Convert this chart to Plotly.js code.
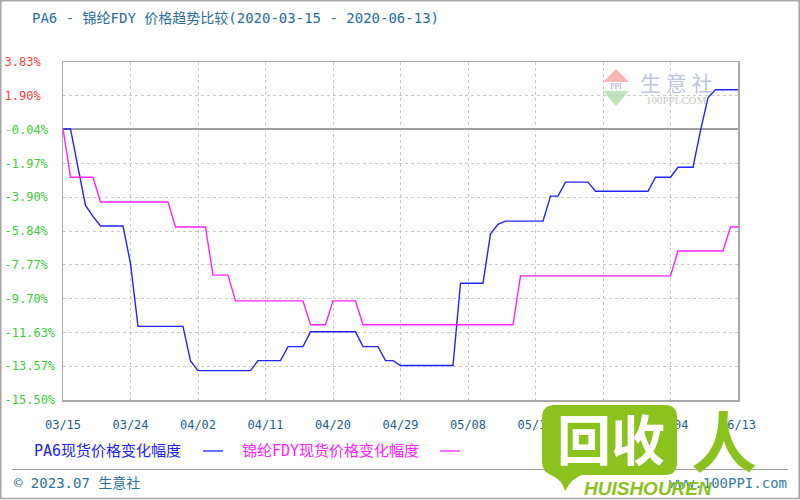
<!DOCTYPE html>
<html>
<head>
<meta charset="utf-8">
<script src="https://cdn.plot.ly/plotly-3.0.1.min.js"></script>
<style>
  html, body { margin: 0; padding: 0; background: #fff; }
  #chart { width: 800px; height: 500px; }
</style>
</head>
<body>
<div id="chart"></div>
<script>
// ---- data ----
const days = [
  '03/15','03/16','03/17','03/18','03/19','03/20','03/21','03/22','03/23','03/24',
  '03/25','03/26','03/27','03/28','03/29','03/30','03/31','04/01','04/02','04/03',
  '04/04','04/05','04/06','04/07','04/08','04/09','04/10','04/11','04/12','04/13',
  '04/14','04/15','04/16','04/17','04/18','04/19','04/20','04/21','04/22','04/23',
  '04/24','04/25','04/26','04/27','04/28','04/29','04/30','05/01','05/02','05/03',
  '05/04','05/05','05/06','05/07','05/08','05/09','05/10','05/11','05/12','05/13',
  '05/14','05/15','05/16','05/17','05/18','05/19','05/20','05/21','05/22','05/23',
  '05/24','05/25','05/26','05/27','05/28','05/29','05/30','05/31','06/01','06/02',
  '06/03','06/04','06/05','06/06','06/07','06/08','06/09','06/10','06/11','06/12',
  '06/13'
];

const pa6Change = [
  0, 0, -2.2, -4.37, -5.0, -5.55, -5.55, -5.55, -5.55, -7.7,
  -11.29, -11.29, -11.29, -11.29, -11.29, -11.29, -11.29, -13.27, -13.82, -13.82,
  -13.82, -13.82, -13.82, -13.82, -13.82, -13.82, -13.25, -13.25, -13.25, -13.25,
  -12.45, -12.45, -12.45, -11.6, -11.6, -11.6, -11.6, -11.6, -11.6, -11.6,
  -12.45, -12.45, -12.45, -13.25, -13.25, -13.53, -13.53, -13.53, -13.53, -13.53,
  -13.53, -13.53, -13.53, -8.82, -8.82, -8.82, -8.82, -6.0, -5.45, -5.27,
  -5.27, -5.27, -5.27, -5.27, -5.27, -3.84, -3.84, -3.04, -3.04, -3.04,
  -3.04, -3.56, -3.56, -3.56, -3.56, -3.56, -3.56, -3.56, -3.56, -2.76,
  -2.76, -2.76, -2.19, -2.19, -2.19, -0.1, 1.8, 2.24, 2.24, 2.24,
  2.24
];

const fdyChange = [
  0, -2.76, -2.76, -2.76, -2.76, -4.18, -4.18, -4.18, -4.18, -4.18,
  -4.18, -4.18, -4.18, -4.18, -4.18, -5.61, -5.61, -5.61, -5.61, -5.61,
  -8.36, -8.36, -8.36, -9.83, -9.83, -9.83, -9.83, -9.83, -9.83, -9.83,
  -9.83, -9.83, -9.83, -11.2, -11.2, -11.2, -9.83, -9.83, -9.83, -9.83,
  -11.2, -11.2, -11.2, -11.2, -11.2, -11.2, -11.2, -11.2, -11.2, -11.2,
  -11.2, -11.2, -11.2, -11.2, -11.2, -11.2, -11.2, -11.2, -11.2, -11.2,
  -11.2, -8.4, -8.4, -8.4, -8.4, -8.4, -8.4, -8.4, -8.4, -8.4,
  -8.4, -8.4, -8.4, -8.4, -8.4, -8.4, -8.4, -8.4, -8.4, -8.4,
  -8.4, -8.4, -6.98, -6.98, -6.98, -6.98, -6.98, -6.98, -6.98, -5.61,
  -5.61
];

const seriesNames = ['PA6现货价格变化幅度', '锦纶FDY现货价格变化幅度'];
const xTickLabels = ['03/15','03/24','04/02','04/11','04/20','04/29','05/08','05/17','05/26','06/04','06/13'];
const yTickValues = [3.83, 1.897, -0.036, -1.969, -3.902, -5.835, -7.768, -9.701, -11.634, -13.567, -15.50];
const yTickLabels = ['3.83%', '1.90%', '-0.04%', '-1.97%', '-3.90%', '-5.84%', '-7.77%', '-9.70%', '-11.63%', '-13.57%', '-15.50%'];
const chartTitle = 'PA6 - 锦纶FDY 价格趋势比较(2020-03-15 - 2020-06-13)';
const footerLeft = '© 2023.07 生意社';
const footerRight = 'www.100PPI.com';

// ---- styling helpers ----
const MONO = '"DejaVu Sans Mono", "Noto Sans CJK SC", monospace';
const CJK = '"DejaVu Sans Mono", "Noto Sans CJK SC", sans-serif';
const BLUE = '#2323ff';
const MAGENTA = '#ff22ff';
const GREEN_LBL = '#3ccc3c';
const RED_LBL = '#ff3c3c';
const GREEN_WM = '#8cc21e';

// plot area in pixels: x 63..738, y 62..400
const L = 63, R = 738, T = 62, B = 400;
const px = x => (x - L) / (R - L);
const py = y => (B - y) / (B - T);
const P = (x, y) => px(x).toFixed(5) + ',' + py(y).toFixed(5);

const maxLen = Math.max(...yTickLabels.map(s => s.length));
const yTickText = yTickLabels.map((s, i) => {
  const pad = '\u00a0'.repeat(maxLen - s.length);
  const v = yTickValues[i];
  if (v > 0.5) return `<span style="color:${RED_LBL}">${s}</span>` + pad;
  if (Math.abs(v) < 0.5) return `<span style="color:#b0b0b0">${s[0]}</span><span style="color:${GREEN_LBL}">${s.slice(1)}</span>` + pad;
  return `<span style="color:${GREEN_LBL}">${s}</span>` + pad;
});

const traces = [
  { x: days, y: pa6Change, type: 'scatter', mode: 'lines', name: seriesNames[0],
    line: { color: BLUE, width: 1.4 }, hoverinfo: 'skip' },
  { x: days, y: fdyChange, type: 'scatter', mode: 'lines', name: seriesNames[1],
    line: { color: MAGENTA, width: 1.4 }, hoverinfo: 'skip' }
];

const shapes = [
  // outer image frame
  { type: 'rect', xref: 'paper', yref: 'paper', x0: px(0.8), x1: px(799.2), y0: py(0.8), y1: py(498.5),
    line: { color: '#a8a8a8', width: 1.6 }, layer: 'below' },
  // footer separator
  { type: 'line', xref: 'paper', yref: 'paper', x0: px(12), x1: px(788), y0: py(469.5), y1: py(469.5),
    line: { color: '#a0a0a0', width: 1.2 }, layer: 'above' },
  // legend line markers
  { type: 'line', xref: 'paper', yref: 'paper', x0: px(203), x1: px(223), y0: py(451), y1: py(451),
    line: { color: BLUE, width: 1.3 }, layer: 'above' },
  { type: 'line', xref: 'paper', yref: 'paper', x0: px(440), x1: px(460), y0: py(451), y1: py(451),
    line: { color: MAGENTA, width: 1.3 }, layer: 'above' },
  // small logo in plot (triangles)
  { type: 'path', xref: 'paper', yref: 'paper', layer: 'below',
    path: 'M ' + P(603, 82) + ' L ' + P(616, 69) + ' L ' + P(629, 82) + ' Z',
    fillcolor: '#f5b8b2', line: { width: 0 } },
  { type: 'path', xref: 'paper', yref: 'paper', layer: 'below',
    path: 'M ' + P(603, 91) + ' L ' + P(629, 91) + ' L ' + P(616, 106) + ' Z',
    fillcolor: '#bfe3b8', line: { width: 0 } },
  // watermark speech bubble
  { type: 'path', xref: 'paper', yref: 'paper', layer: 'above',
    path: 'M ' + P(555, 405) + ' L ' + P(665, 405) + ' Q ' + P(677, 405) + ' ' + P(677, 417) +
          ' L ' + P(677, 463) + ' Q ' + P(677, 475) + ' ' + P(665, 475) +
          ' L ' + P(582, 475) + ' Q ' + P(572, 478) + ' ' + P(565, 491) +
          ' Q ' + P(562, 480) + ' ' + P(553, 476) +
          ' Q ' + P(542, 472) + ' ' + P(542, 462) +
          ' L ' + P(542, 418) + ' Q ' + P(542, 405) + ' ' + P(555, 405) + ' Z',
    fillcolor: GREEN_WM, line: { width: 0 } }
];

const annotations = [
  { xref: 'paper', yref: 'paper', x: px(32), y: py(451), xanchor: 'left', yanchor: 'middle', showarrow: false,
    text: seriesNames[0], font: { family: CJK, size: 15, color: BLUE } },
  { xref: 'paper', yref: 'paper', x: px(240), y: py(451), xanchor: 'left', yanchor: 'middle', showarrow: false,
    text: seriesNames[1], font: { family: CJK, size: 15, color: MAGENTA } },
  { xref: 'paper', yref: 'paper', x: px(12), y: py(483), xanchor: 'left', yanchor: 'middle', showarrow: false,
    text: footerLeft, font: { family: MONO, size: 14, color: '#2e6f95' } },
  { xref: 'paper', yref: 'paper', x: px(789), y: py(483), xanchor: 'right', yanchor: 'middle', showarrow: false,
    text: footerRight, font: { family: MONO, size: 14, color: '#3a7ba3' } },
  // in-plot logo text
  { xref: 'paper', yref: 'paper', x: px(676), y: py(82), xanchor: 'center', yanchor: 'middle', showarrow: false,
    text: '生 意 社', font: { family: '"Noto Sans CJK SC", sans-serif', size: 21, color: '#bcc6de' } },
  { xref: 'paper', yref: 'paper', x: px(676), y: py(100), xanchor: 'center', yanchor: 'middle', showarrow: false,
    text: '100PPI.COM', font: { family: '"Liberation Serif", serif', size: 11, color: '#c8c8c8' } },
  { xref: 'paper', yref: 'paper', x: px(616), y: py(86.5), xanchor: 'center', yanchor: 'middle', showarrow: false,
    text: 'PPI', font: { family: '"Liberation Serif", serif', size: 8, color: '#9aa8c8' } },
  // watermark texts
  { xref: 'paper', yref: 'paper', x: px(611), y: py(437), xanchor: 'center', yanchor: 'middle', showarrow: false,
    text: '<b>回收</b>', font: { family: '"Noto Sans CJK SC", sans-serif', size: 54, color: '#ffffff' } },
  { xref: 'paper', yref: 'paper', x: px(724), y: py(438), xanchor: 'center', yanchor: 'middle', showarrow: false,
    text: '<b>人</b>', font: { family: '"Noto Sans CJK SC", sans-serif', size: 66, color: GREEN_WM } },
  { xref: 'paper', yref: 'paper', x: px(648), y: py(488), xanchor: 'center', yanchor: 'middle', showarrow: false,
    text: '<b><i>HUISHOUREN</i></b>', font: { family: '"Liberation Sans", Arial, sans-serif', size: 19, color: GREEN_WM } }
];

const layout = {
  width: 800, height: 500,
  margin: { l: L, r: 800 - R, t: T, b: 500 - B, pad: 0 },
  paper_bgcolor: '#ffffff', plot_bgcolor: '#ffffff',
  showlegend: false,
  title: { text: chartTitle, xref: 'container', yref: 'container', x: 32 / 800, xanchor: 'left',
           y: 1 - 18 / 500, yanchor: 'middle',
           font: { family: MONO, size: 14, color: '#2a6c9c' } },
  xaxis: {
    type: 'category', range: [0, days.length - 1],
    tickmode: 'array', tickvals: xTickLabels, ticktext: xTickLabels,
    showgrid: true, gridcolor: '#c8c8c8', griddash: 'dot', gridwidth: 1,
    showline: true, linecolor: '#a8a8a8', linewidth: 1.5, mirror: true,
    ticks: 'outside', ticklen: 13, tickcolor: 'rgba(0,0,0,0)',
    tickfont: { family: MONO, size: 12, color: '#1f5e8c' },
    zeroline: false, fixedrange: true
  },
  yaxis: {
    range: [-15.50, 3.83],
    tickmode: 'array', tickvals: yTickValues, ticktext: yTickText,
    showgrid: true, gridcolor: '#c8c8c8', griddash: 'dot', gridwidth: 1,
    showline: true, linecolor: '#a8a8a8', linewidth: 1.5, mirror: true,
    ticks: 'outside', ticklen: 4, tickcolor: 'rgba(0,0,0,0)',
    tickfont: { family: MONO, size: 12, color: GREEN_LBL },
    zeroline: true, zerolinecolor: '#a0a0a0', zerolinewidth: 1.6, fixedrange: true
  },
  shapes: shapes,
  annotations: annotations
};

Plotly.newPlot('chart', traces, layout, { displayModeBar: false, staticPlot: true });
</script>
</body>
</html>
